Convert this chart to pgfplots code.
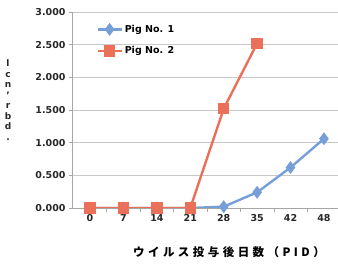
\documentclass[border=0pt]{standalone}
\usepackage{pgfplots}
\pgfplotsset{compat=1.18}
\usepackage{fontspec}
\setmainfont{DejaVu Sans}
\newfontfamily\cjk[LetterSpace=30]{Noto Sans CJK JP}
\definecolor{pigblue}{RGB}{118,158,215}
\definecolor{pigred}{RGB}{234,112,90}
\definecolor{gridgray}{RGB}{200,200,200}
\begin{document}
\begin{tikzpicture}
\useasboundingbox (0,0) rectangle (338pt,264pt);
\begin{axis}[
  at={(72pt,56pt)}, anchor=south west,
  scale only axis, width=266pt, height=196pt,
  xmin=-0.54, xmax=7.42, ymin=0, ymax=3,
  axis x line*=bottom, axis y line*=left,
  axis line style={-, draw=gray!70, line width=0.8pt},
  ytick={0,0.5,1,1.5,2,2.5,3},
  yticklabel style={/pgf/number format/.cd, fixed, fixed zerofill, precision=3, assume math mode=true},
  ticklabel style={font=\bfseries\fontsize{9.5}{11}\selectfont, text=black!85},
  xtick={0,...,7},
  xticklabels={0,7,14,21,28,35,42,48},
  major x tick style={draw=none},
  minor x tick num=1,
  minor tick length=4pt,
  major tick length=3pt,
  tick align=outside,
  tick style={draw=gray!70, line width=0.6pt},
  ymajorgrids, grid style={gridgray, line width=0.7pt},
  xlabel={\cjk\bfseries\fontsize{11.5}{12}\selectfont ウイルス投与後日数（PID）},
  xlabel style={at={(axis description cs:0.59,0)}, anchor=center, yshift=-44pt},
  legend style={at={(0.08,0.955)}, anchor=north west, draw=none, fill=none,
    font=\bfseries\fontsize{9.5}{11}\selectfont, row sep=9pt},
  legend cell align=left,
  legend image code/.code={\draw[mark repeat=2,mark phase=2] plot coordinates {(0cm,0cm)(0.42cm,0cm)(0.84cm,0cm)};},
]
\addplot[color=pigblue, line width=2.4pt, mark=diamond*, mark size=4.5pt, mark options={fill=pigblue}]
  coordinates {(0,0) (1,0) (2,0) (3,0) (4,0.02) (5,0.24) (6,0.62) (7,1.06)};
\addlegendentry{Pig No. 1}
\addplot[color=pigred, line width=2.4pt, mark=square*, mark size=4.5pt, mark options={fill=pigred}]
  coordinates {(0,0) (1,0) (2,0) (3,0) (4,1.52) (5,2.52)};
\addlegendentry{Pig No. 2}
\end{axis}
\node[font=\bfseries\fontsize{9}{10.5}\selectfont, align=center, text=black!85] at (8pt,164pt) {l\\c\\n\\'\\r\\b\\d\\.};
\end{tikzpicture}
\end{document}
